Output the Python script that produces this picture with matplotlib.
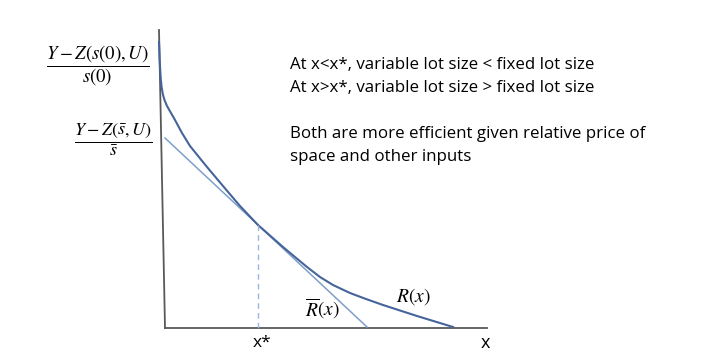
import matplotlib
matplotlib.use("Agg")
import matplotlib.pyplot as plt

plt.rcParams["mathtext.fontset"] = "stix"

# curve points (pixel-like units, y grows downward)
r_x = [159, 159.6, 160.2, 160.8, 161.6, 162.8, 164.5, 167, 171, 175, 182, 190, 207, 223, 240, 258, 283, 307, 320, 333, 350, 366, 383, 417, 453]
r_y = [42, 58, 70, 79, 87, 94, 100, 106, 113, 120, 133, 146, 167, 186, 206, 225, 247, 267, 277, 285, 293, 299, 305, 316, 327]

# fixed lot size line R-bar(x)
rbar_x = [165, 367]
rbar_y = [138, 327]

# x* position and where it meets the curves
xstar = 258
xstar_y = 225

# axes frame
yaxis_x = [159, 165]
yaxis_y = [30, 328]
xaxis_x = [165, 487]
xaxis_y = [328, 328]

notes = [
    "At x<x*, variable lot size < fixed lot size",
    "At x>x*, variable lot size > fixed lot size",
    "",
    "Both are more efficient given relative price of",
    "space and other inputs",
]

fig = plt.figure(figsize=(7.18, 3.6), dpi=100)
ax = fig.add_axes([0, 0, 1, 1])
ax.set_xlim(0, 718)
ax.set_ylim(360, 0)
ax.axis("off")

ax.plot(yaxis_x, yaxis_y, color="#595959", lw=1.3)
ax.plot(xaxis_x, xaxis_y, color="#595959", lw=1.3)

ax.plot(rbar_x, rbar_y, color="#7f9fcb", lw=1.1)
ax.plot(r_x, r_y, color="#46649a", lw=1.5)
ax.plot([xstar, xstar], [xstar_y, 328], color="#9ab6dc", lw=1, ls=(0, (4, 3)))

# y-axis labels
ax.text(98, 66, r"$\dfrac{Y-Z(s(0),U)}{s(0)}$", ha="center", va="center", fontsize=13.5)
ax.text(113, 140, r"$\dfrac{Y-Z(\bar{s},U)}{\bar{s}}$", ha="center", va="center", fontsize=13)

# curve labels
ax.text(413, 297, r"$R(x)$", ha="center", va="center", fontsize=14)
ax.text(322, 309, r"$\overline{R}(x)$", ha="center", va="center", fontsize=14)

# x-axis labels
ax.text(262, 343, "x*", ha="center", va="center", fontsize=12.5, family="Open Sans")
ax.text(485, 343, "x", ha="center", va="center", fontsize=13, family="Open Sans")

for i, line in enumerate(notes):
    ax.text(290, 65 + i * 23, line, ha="left", va="center", fontsize=12.2, family="Open Sans")

fig.savefig("out.png", dpi=100)
